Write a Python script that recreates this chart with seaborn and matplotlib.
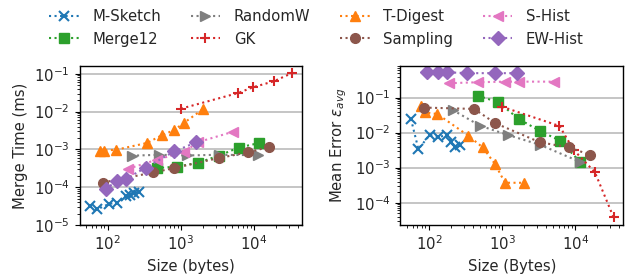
import matplotlib
matplotlib.use("Agg")
import matplotlib.pyplot as plt
import seaborn as sns
import numpy as np
import pandas as pd
from matplotlib.ticker import LogLocator, NullFormatter

# ---- data ----
names = ["M-Sketch", "Merge12", "RandomW", "GK", "T-Digest", "Sampling", "S-Hist", "EW-Hist"]

msketch_size = [57, 72, 103, 134, 180, 200, 227, 266]
msketch_time = [3.1e-5, 2.6e-5, 3.6e-5, 3.9e-5, 5.7e-5, 6.3e-5, 6.9e-5, 7.4e-5]
msketch_err = [0.0245, 0.0034, 0.0086, 0.0074, 0.0086, 0.0055, 0.0038, 0.0043]

merge12_size = [464, 890, 1700, 3300, 6200, 11800]
merge12_time = [3.2e-4, 3.5e-4, 4.4e-4, 6.8e-4, 1.12e-3, 1.47e-3]
merge12_err = [0.114, 0.074, 0.0245, 0.0112, 0.0059, 0.00143]

randomw_size = [211, 500, 1200, 3350, 11500]
randomw_time = [6.8e-4, 7.2e-4, 6.9e-4, 7.2e-4, 7.0e-4]
randomw_err = [0.0446, 0.0158, 0.0086, 0.00445, 0.00148]

gk_size = [1000, 6100, 9550, 18600, 33500]
gk_time = [0.0119, 0.031, 0.0435, 0.063, 0.105]
gk_err = [0.055, 0.0155, 0.0032, 0.00074, 3.8e-5]

tdigest_size = [78, 89, 131, 346, 544, 800, 1100, 2020]
tdigest_time = [8.8e-4, 9.3e-4, 9.8e-4, 1.48e-3, 2.35e-3, 3.2e-3, 5.0e-3, 0.0117]
tdigest_err = [0.059, 0.038, 0.034, 0.0082, 0.0038, 0.00128, 0.00037, 0.00037]

sampling_size = [86, 417, 809, 3300, 8200, 16200]
sampling_time = [1.33e-4, 2.45e-4, 3.2e-4, 5.9e-4, 8.3e-4, 1.17e-3]
sampling_err = [0.052, 0.0475, 0.0186, 0.0053, 0.0038, 0.0023]

shist_size = [190, 464, 1100, 1730, 5100]
shist_time = [3.07e-4, 5.3e-4, 8.5e-4, 1.56e-3, 2.9e-3]
shist_err = [0.258, 0.275, 0.286, 0.286, 0.286]

ewhist_size = [93, 134, 177, 331, 809, 1600]
ewhist_time = [8.9e-5, 1.48e-4, 1.66e-4, 3.3e-4, 8.8e-4, 1.52e-3]
ewhist_err = [0.53, 0.53, 0.53, 0.50, 0.50, 0.50]

sizes = [msketch_size, merge12_size, randomw_size, gk_size, tdigest_size, sampling_size, shist_size, ewhist_size]
times = [msketch_time, merge12_time, randomw_time, gk_time, tdigest_time, sampling_time, shist_time, ewhist_time]
errs = [msketch_err, merge12_err, randomw_err, gk_err, tdigest_err, sampling_err, shist_err, ewhist_err]

pal = sns.color_palette("tab10")
colors = [pal[0], pal[2], pal[7], pal[3], pal[1], pal[5], pal[6], pal[4]]
markers = ["x", "s", ">", "+", "^", "o", "<", "D"]

sns.set_style("ticks")
plt.rcParams["font.family"] = ["DejaVu Sans"]
FS = 10.7

fig = plt.figure(figsize=(6.29, 2.74), dpi=100)
ax1 = fig.add_axes([0.1264, 0.1788, 0.3533, 0.5803])
ax2 = fig.add_axes([0.6367, 0.1788, 0.3537, 0.5803])

for i, n in enumerate(names):
    df = pd.DataFrame({"size": sizes[i], "time": times[i], "err": errs[i]})
    mew = 1.5 if markers[i] in ("x", "+") else 1.0
    sns.lineplot(data=df, x="size", y="time", ax=ax1, color=colors[i], marker=markers[i],
                 linestyle=":", linewidth=1.5, markersize=7, markeredgewidth=mew,
                 markeredgecolor=colors[i], label=n, legend=False, sort=False, estimator=None)
    sns.lineplot(data=df, x="size", y="err", ax=ax2, color=colors[i], marker=markers[i],
                 linestyle=":", linewidth=1.5, markersize=7, markeredgewidth=mew,
                 markeredgecolor=colors[i], label=n, legend=False, sort=False, estimator=None)

for ax in (ax1, ax2):
    ax.set_xscale("log")
    ax.set_yscale("log")
    ax.set_xlim(41, 45000)
    ax.yaxis.grid(True, which="major", color="#bbbbbb", linewidth=1.2)
    ax.xaxis.grid(False)
    ax.set_axisbelow(True)
    ax.tick_params(axis="both", which="major", labelsize=FS, length=3.5, width=0.8, color="black")
    ax.tick_params(axis="both", which="minor", length=2, width=0.6, color="black")
    ax.yaxis.set_major_locator(LogLocator(base=10, numticks=10))
    ax.yaxis.set_minor_locator(LogLocator(base=10, subs=np.arange(2, 10), numticks=20))
    ax.yaxis.set_minor_formatter(NullFormatter())
    for s in ax.spines.values():
        s.set_color("black")
        s.set_linewidth(1.0)

ax1.set_ylim(1e-5, 0.16)
ax2.set_ylim(2.3e-5, 0.8)
ax1.set_xlabel("Size (bytes)", fontsize=FS)
ax1.set_ylabel("Merge Time (ms)", fontsize=FS)
ax2.set_xlabel("Size (Bytes)", fontsize=FS)
ax2.set_ylabel(r"Mean Error $\epsilon_{avg}$", fontsize=FS)

handles, labels = ax1.get_legend_handles_labels()
fig.legend(handles, labels, loc="upper center", bbox_to_anchor=(0.503, 1.015), ncol=4,
           frameon=False, fontsize=FS, handlelength=2.0, columnspacing=2.0,
           labelspacing=0.5, handletextpad=0.9)

fig.savefig("out.png", dpi=100)
